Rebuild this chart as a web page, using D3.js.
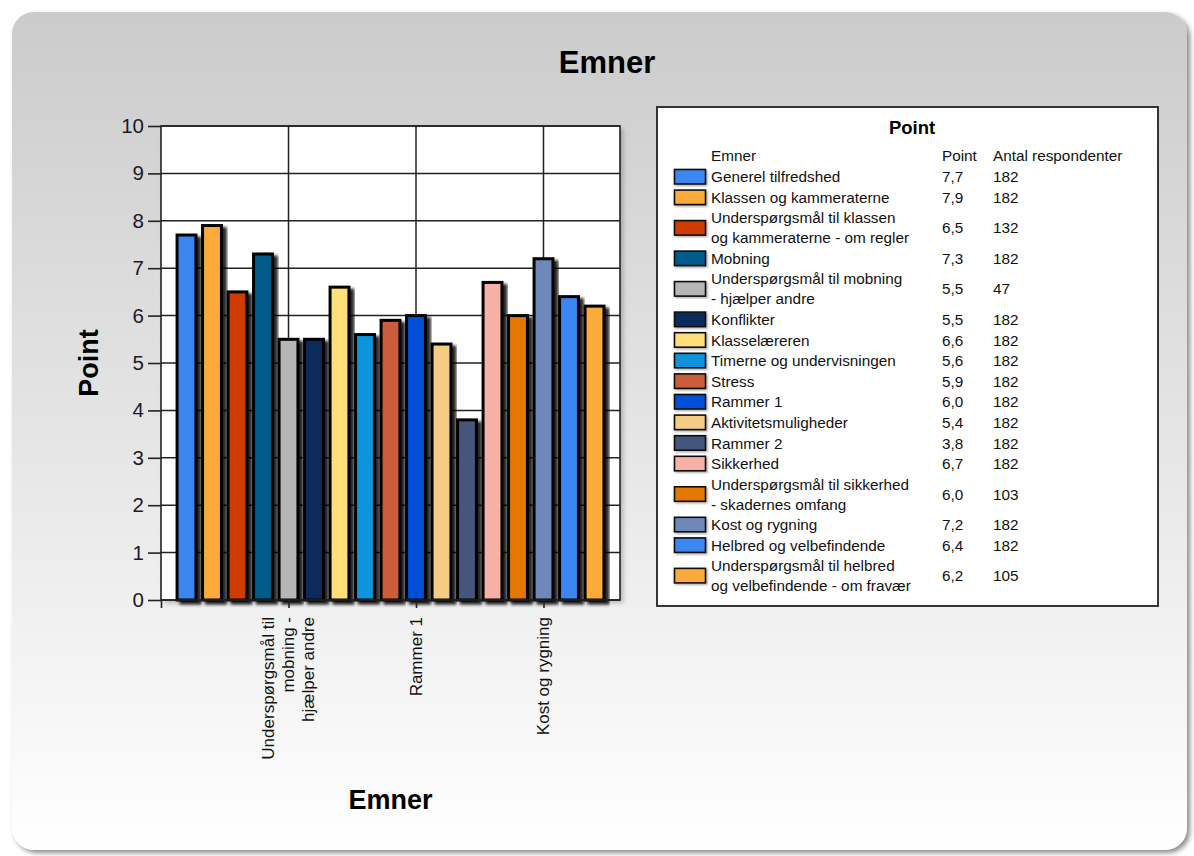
<!DOCTYPE html>
<html>
<head>
<meta charset="utf-8">
<script src="https://cdn.jsdelivr.net/npm/d3@7"></script>
<style>
  html, body { margin: 0; padding: 0; background: #fff; }
  svg { display: block; font-family: "Liberation Sans", Arial, sans-serif; }
</style>
</head>
<body>
<svg width="1194" height="856"></svg>
<script>
// chart data
const categories = [
    'Generel tilfredshed',
    'Klassen og kammeraterne',
    'Underspørgsmål til klassen og kammeraterne - om regler',
    'Mobning',
    'Underspørgsmål til mobning - hjælper andre',
    'Konflikter',
    'Klasselæreren',
    'Timerne og undervisningen',
    'Stress',
    'Rammer 1',
    'Aktivitetsmuligheder',
    'Rammer 2',
    'Sikkerhed',
    'Underspørgsmål til sikkerhed - skadernes omfang',
    'Kost og rygning',
    'Helbred og velbefindende',
    'Underspørgsmål til helbred og velbefindende - om fravær'
];
const legendLines = [
    ['Generel tilfredshed'],
    ['Klassen og kammeraterne'],
    ['Underspørgsmål til klassen', 'og kammeraterne - om regler'],
    ['Mobning'],
    ['Underspørgsmål til mobning', '- hjælper andre'],
    ['Konflikter'],
    ['Klasselæreren'],
    ['Timerne og undervisningen'],
    ['Stress'],
    ['Rammer 1'],
    ['Aktivitetsmuligheder'],
    ['Rammer 2'],
    ['Sikkerhed'],
    ['Underspørgsmål til sikkerhed', '- skadernes omfang'],
    ['Kost og rygning'],
    ['Helbred og velbefindende'],
    ['Underspørgsmål til helbred', 'og velbefindende - om fravær']
];
const points = [7.7, 7.9, 6.5, 7.3, 5.5, 5.5, 6.6, 5.6, 5.9, 6.0, 5.4, 3.8, 6.7, 6.0, 7.2, 6.4, 6.2];
const respondents = [182, 182, 132, 182, 47, 182, 182, 182, 182, 182, 182, 182, 182, 103, 182, 182, 105];
const yTicks = [0, 1, 2, 3, 4, 5, 6, 7, 8, 9, 10];
const xTickValues = [0, 5, 10, 15];
const xTickLabels = {
    5: ['Underspørgsmål til', 'mobning -', 'hjælper andre'],
    10: ['Rammer 1'],
    15: ['Kost og rygning']
};

const palette = ['#3b86f0', '#fbab3a', '#d03a06', '#005a8a', '#b6b6b6', '#102b5c',
    '#ffdf7a', '#0994dc', '#cb5d3c', '#0050d8', '#f5cc84', '#44547c',
    '#f7b0a5', '#e47704', '#6e88b7', '#3b86f0', '#fbab3a'];

const svg = d3.select('svg');
const defs = svg.append('defs');

const grad = defs.append('linearGradient')
    .attr('id', 'bg').attr('x1', 0).attr('y1', 0).attr('x2', 0).attr('y2', 1);
grad.append('stop').attr('offset', '0%').attr('stop-color', '#cbcbcb');
grad.append('stop').attr('offset', '100%').attr('stop-color', '#ffffff');

function shadow(id, dx, dy, sd, op) {
    defs.append('filter').attr('id', id)
        .attr('x', '-20%').attr('y', '-20%').attr('width', '150%').attr('height', '140%')
        .append('feDropShadow')
        .attr('dx', dx).attr('dy', dy).attr('stdDeviation', sd)
        .attr('flood-color', '#000').attr('flood-opacity', op);
}
shadow('panelShadow', 3, 3, 2.5, 0.45);
shadow('plotShadow', 3, 3, 2.5, 0.25);
shadow('barShadow', 4, 3, 1.6, 0.85);
shadow('swShadow', 1.5, 1.5, 0.8, 0.3);

// background panel
svg.append('rect')
    .attr('x', 12).attr('y', 12)
    .attr('width', 1175).attr('height', 838)
    .attr('rx', 22).attr('ry', 22)
    .attr('fill', 'url(#bg)')
    .attr('filter', 'url(#panelShadow)');

svg.append('text')
    .attr('x', 607).attr('y', 73)
    .attr('text-anchor', 'middle')
    .attr('font-size', 31).attr('font-weight', 'bold')
    .text('Emner');

// plot
const plot = {l: 161, t: 126, r: 620, b: 600};

const scaleX = d3.scaleLinear().domain([0, 18]).range([plot.l, plot.r]);
const scaleY = d3.scaleLinear().domain([0, 10]).range([plot.b, plot.t]);

svg.append('rect')
    .attr('x', plot.l).attr('y', plot.t)
    .attr('width', plot.r - plot.l).attr('height', plot.b - plot.t)
    .attr('fill', '#fff')
    .attr('filter', 'url(#plotShadow)');

// grid
svg.append('g')
    .selectAll('line.h')
    .data(yTicks)
    .join('line')
    .attr('x1', plot.l).attr('x2', plot.r)
    .attr('y1', d => scaleY(d)).attr('y2', d => scaleY(d))
    .attr('stroke', '#222').attr('stroke-width', 1.5);

svg.append('g')
    .selectAll('line.v')
    .data(xTickValues.filter(d => d > 0))
    .join('line')
    .attr('x1', d => scaleX(d)).attr('x2', d => scaleX(d))
    .attr('y1', plot.t).attr('y2', plot.b)
    .attr('stroke', '#222').attr('stroke-width', 1.5);

// bars
const pitch = scaleX(1) - scaleX(0);
const barW = pitch * 0.74;
svg.append('g')
    .selectAll('rect')
    .data(points)
    .join('rect')
    .attr('x', (d, i) => scaleX(i + 1) - barW / 2)
    .attr('y', d => scaleY(d))
    .attr('width', barW)
    .attr('height', d => scaleY(0) - scaleY(d))
    .attr('fill', (d, i) => palette[i])
    .attr('stroke', '#000')
    .attr('stroke-width', 3)
    .attr('filter', 'url(#barShadow)');

// frame
svg.append('rect')
    .attr('x', plot.l).attr('y', plot.t)
    .attr('width', plot.r - plot.l).attr('height', plot.b - plot.t)
    .attr('fill', 'none')
    .attr('stroke', '#222').attr('stroke-width', 1.6);

// y axis
const axisY = d3.axisLeft(scaleY).tickValues(yTicks).tickSize(13).tickPadding(4);
const axisYG = svg.append('g')
    .attr('transform', `translate(${plot.l},0)`)
    .call(axisY);
axisYG.select('.domain').remove();
axisYG.selectAll('line').attr('stroke', '#222').attr('stroke-width', 1.6);
axisYG.selectAll('text')
    .attr('font-size', 20.5).attr('fill', '#1a1a2a')
    .attr('font-family', '"Liberation Sans", Arial, sans-serif');

// x axis
const axisX = d3.axisBottom(scaleX).tickValues(xTickValues).tickSize(8).tickFormat('');
const axisXG = svg.append('g')
    .attr('transform', `translate(0,${plot.b})`)
    .call(axisX);
axisXG.select('.domain').remove();
axisXG.selectAll('line').attr('stroke', '#222').attr('stroke-width', 1.6);

const xLab = svg.append('g');
xTickValues.filter(d => xTickLabels[d]).forEach(v => {
    const lines = xTickLabels[v];
    const n = lines.length;
    const t = xLab.append('text')
        .attr('transform', `translate(${scaleX(v)},${plot.b + 17}) rotate(-90)`)
        .attr('text-anchor', 'end')
        .attr('font-size', 17)
        .attr('fill', '#111');
    lines.forEach((ln, k) => {
        t.append('tspan')
            .attr('x', 0)
            .attr('y', (k - (n - 1) / 2) * 20)
            .attr('dy', '0.35em')
            .text(ln);
    });
});

// axis titles
svg.append('text')
    .attr('x', (plot.l + plot.r) / 2).attr('y', 809)
    .attr('text-anchor', 'middle')
    .attr('font-size', 27).attr('font-weight', 'bold')
    .text('Emner');

svg.append('text')
    .attr('transform', `translate(98,${(plot.t + plot.b) / 2}) rotate(-90)`)
    .attr('text-anchor', 'middle')
    .attr('font-size', 27).attr('font-weight', 'bold')
    .text('Point');

// legend
const lg = {x: 657, y: 107, w: 501, h: 499};
const legend = svg.append('g');
legend.append('rect')
    .attr('x', lg.x).attr('y', lg.y).attr('width', lg.w).attr('height', lg.h)
    .attr('fill', '#fff').attr('stroke', '#222').attr('stroke-width', 1.8);

legend.append('text')
    .attr('x', 912).attr('y', 128).attr('dy', '0.35em')
    .attr('text-anchor', 'middle')
    .attr('font-size', 18.5).attr('font-weight', 'bold')
    .text('Point');

const fs = 15.3;
const col = {name: 711, point: 942, antal: 993};
const headers = [['Emner', col.name], ['Point', col.point], ['Antal respondenter', col.antal]];
legend.selectAll('text.hdr')
    .data(headers)
    .join('text')
    .attr('x', d => d[1]).attr('y', 156).attr('dy', '0.35em')
    .attr('font-size', fs).attr('fill', '#111')
    .text(d => d[0]);

const fmt = d3.format('.1f');
let rowTop = 166.7;
categories.forEach((c, i) => {
    const lines = legendLines[i];
    const h = lines.length > 1 ? 40.4 : 20.6;
    const cy = rowTop + h / 2;
    const row = legend.append('g');
    row.append('rect')
        .attr('x', 674.5).attr('y', cy - 7.5)
        .attr('width', 31).attr('height', 14.5)
        .attr('fill', palette[i])
        .attr('stroke', '#111').attr('stroke-width', 1.6)
        .attr('filter', 'url(#swShadow)');
    lines.forEach((ln, k) => {
        row.append('text')
            .attr('x', col.name)
            .attr('y', cy + (k - (lines.length - 1) / 2) * 20)
            .attr('dy', '0.35em')
            .attr('font-size', fs).attr('fill', '#111')
            .text(ln);
    });
    row.append('text')
        .attr('x', col.point).attr('y', cy).attr('dy', '0.35em')
        .attr('font-size', fs).attr('fill', '#111')
        .text(fmt(points[i]).replace('.', ','));
    row.append('text')
        .attr('x', col.antal).attr('y', cy).attr('dy', '0.35em')
        .attr('font-size', fs).attr('fill', '#111')
        .text(respondents[i]);
    rowTop += h;
});
</script>
</body>
</html>
